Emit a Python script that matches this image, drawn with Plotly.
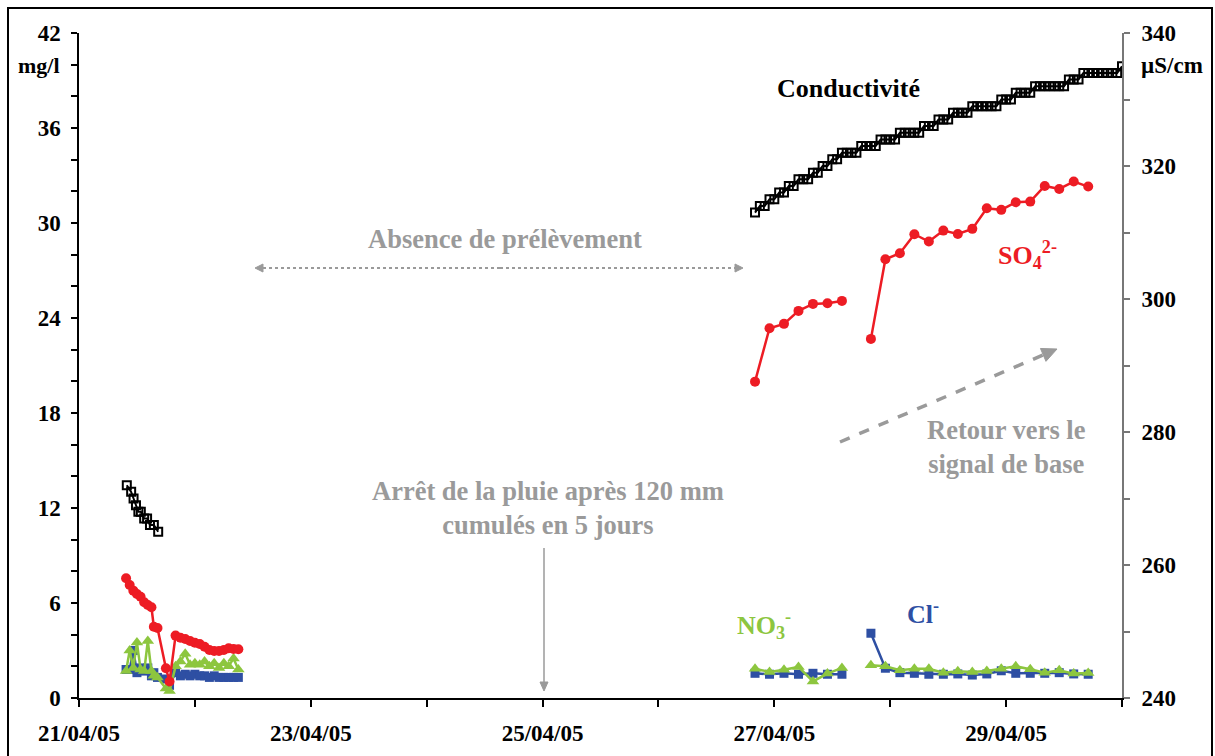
import pandas as pd
import plotly.graph_objects as go

BASE = pd.Timestamp("2005-04-21")

# ---- data (hours since 21/04/05 00:00) ----
t_left = [9.75, 10.5, 11.25, 12.0, 12.75, 13.5, 14.25, 15.0, 15.5, 16.25, 18.0, 18.75, 20.0,
          21.0, 22.0, 23.0, 24.0, 25.0, 26.0, 27.0, 28.0, 29.0, 30.0, 31.0, 32.0, 33.0]
so4_left = [7.56, 7.14, 6.78, 6.57, 6.40, 6.05, 5.87, 5.73, 4.50, 4.42, 1.88, 1.04, 3.94,
            3.81, 3.73, 3.60, 3.49, 3.41, 3.24, 3.03, 2.97, 2.97, 3.03, 3.14, 3.10, 3.08]
no3_left = [1.7, 3.0, 1.9, 3.5, 1.8, 1.7, 3.6, 1.7, 1.4, 1.3, 0.6, 0.45, 2.0,
            2.3, 2.8, 2.1, 2.2, 2.1, 2.3, 2.0, 2.2, 1.9, 2.2, 2.0, 2.5, 1.8]
cl_left = [1.8, 1.8, 3.0, 1.6, 1.9, 1.7, 1.9, 1.4, 1.6, 1.3, 1.2, 0.8, 1.6,
           1.4, 1.5, 1.4, 1.5, 1.4, 1.4, 1.3, 1.4, 1.3, 1.3, 1.3, 1.3, 1.3]

t_cond_left = [9.9, 10.8, 11.3, 11.8, 12.3, 12.8, 13.5, 14.1, 14.7, 15.5, 16.4]
cond_left = [272, 271, 270, 269, 268, 268, 267, 267, 266, 266, 265]

# right block, 3-hourly samples (None = no sample, breaks the line)
t_right = [140, 143, 146, 149, 152, 155, 158, 161, 164, 167, 170, 173, 176, 179, 182,
           185, 188, 191, 194, 197, 200, 203, 206, 209]
so4_right = [19.98, 23.35, 23.63, 24.45, 24.89, 24.93, 25.08, None, 22.68, 27.71, 28.09,
             29.29, 28.83, 29.52, 29.31, 29.63, 30.93, 30.83, 31.31, 31.35, 32.34, 32.15,
             32.62, 32.30]
no3_right = [1.85, 1.64, 1.79, 1.96, 1.05, 1.54, 1.90, None, 2.07, 2.00, 1.75, 1.85, 1.85,
             1.60, 1.69, 1.64, 1.71, 1.85, 2.00, 1.81, 1.60, 1.75, 1.54, 1.58]
cl_right = [1.56, 1.50, 1.56, 1.50, 1.56, 1.50, 1.50, None, 4.09, 1.88, 1.60, 1.56, 1.50,
            1.50, 1.52, 1.45, 1.52, 1.72, 1.56, 1.56, 1.56, 1.60, 1.52, 1.50]

# conductivity, hourly from 140 h to 216 h (uS/cm)
cond_right = [313, 314, 314, 315, 315, 316, 316, 317, 317, 318, 318, 318, 319, 319, 320,
              320, 321, 321, 322, 322, 322, 322, 323, 323, 323, 323, 324, 324, 324, 324,
              325, 325, 325, 325, 325, 326, 326, 326, 327, 327, 327, 328, 328, 328, 328,
              329, 329, 329, 329, 329, 329, 330, 330, 330, 331, 331, 331, 331, 332, 332,
              332, 332, 332, 332, 332, 333, 333, 333, 334, 334, 334, 334, 334, 334, 334,
              334, 335]
t_cond_right = list(range(140, 140 + len(cond_right)))


def to_dt(hours):
    return [BASE + pd.Timedelta(hours=h) for h in hours]


RED = "#ed1c24"
BLUE = "#2e4fa3"
GREEN = "#8dc63f"
GREY = "#9a9a9a"
SERIF = "Liberation Serif"

fig = go.Figure()

# conductivity (right axis)
for tt, vv in [(t_cond_left, cond_left), (t_cond_right, cond_right)]:
    fig.add_trace(go.Scatter(x=to_dt(tt), y=vv, yaxis="y2", mode="lines+markers",
                             line=dict(color="black", width=2),
                             marker=dict(symbol="square-open", size=8, color="black",
                                         line=dict(width=2)),
                             showlegend=False))

# chloride
for tt, vv in [(t_left, cl_left), (t_right, cl_right)]:
    fig.add_trace(go.Scatter(x=to_dt(tt), y=vv, mode="lines+markers",
                             line=dict(color=BLUE, width=2.5),
                             marker=dict(symbol="square", size=9, color=BLUE),
                             showlegend=False))

# nitrate
for tt, vv in [(t_left, no3_left), (t_right, no3_right)]:
    fig.add_trace(go.Scatter(x=to_dt(tt), y=vv, mode="lines+markers",
                             line=dict(color=GREEN, width=2.5),
                             marker=dict(symbol="triangle-up", size=11, color=GREEN),
                             showlegend=False))

# sulfate
for tt, vv in [(t_left, so4_left), (t_right, so4_right)]:
    fig.add_trace(go.Scatter(x=to_dt(tt), y=vv, mode="lines+markers",
                             line=dict(color=RED, width=2.5),
                             marker=dict(symbol="circle", size=10, color=RED),
                             showlegend=False))

day = 86400000
fig.update_layout(
    width=1215, height=756,
    margin=dict(l=79, r=93, t=33, b=58),
    plot_bgcolor="white", paper_bgcolor="white",
    font=dict(family=SERIF, color="black"),
    xaxis=dict(type="date", range=["2005-04-21", "2005-04-30"],
               tick0="2005-04-21", dtick=2 * day, tickformat="%d/%m/%y",
               ticks="outside", ticklen=7, tickwidth=1.5, tickcolor="black",
               minor=dict(dtick=day, ticks="outside", ticklen=7, tickwidth=1.5,
                          tickcolor="black", showgrid=False),
               showline=True, linecolor="black", linewidth=2, automargin=False,
               showgrid=False, zeroline=False, ticklabelstandoff=6,
               tickfont=dict(family=SERIF, size=23, weight="bold")),
    yaxis=dict(range=[0, 42], dtick=6, ticks="outside", ticklen=6, tickwidth=1.5,
               tickcolor="black", automargin=False,
               minor=dict(dtick=2, ticks="outside", ticklen=6, tickwidth=1.5,
                          tickcolor="black", showgrid=False),
               showline=True, linecolor="black", linewidth=1.5,
               showgrid=False, zeroline=False, ticklabelstandoff=6,
               tickfont=dict(family=SERIF, size=23, weight="bold")),
    yaxis2=dict(range=[240, 340], dtick=20, overlaying="y", side="right",
                ticks="outside", ticklen=6, tickwidth=1.5, tickcolor="#777777",
                minor=dict(dtick=10, ticks="outside", ticklen=6, tickwidth=1.5,
                           tickcolor="#777777", showgrid=False),
                showline=True, linecolor="#777777", linewidth=2, automargin=False,
                showgrid=False, zeroline=False, ticklabelstandoff=7,
                tickfont=dict(family=SERIF, size=23, weight="bold")),
)


def px_x(p):
    return (p - 79) / 1043.0


def px_y(p):
    return (698 - p) / 665.0


ann = [
    dict(text="<b>mg/l</b>", x=62, y=66, xanchor="right", size=22, color="black"),
    dict(text="<b>µS/cm</b>", x=1139, y=66, xanchor="left", size=23, color="black"),
    dict(text="<b>Conductivité</b>", x=848, y=88, size=26, color="black"),
    dict(text="<b>SO<sub>4</sub><sup>2-</sup></b>", x=996, y=255, xanchor="left", size=26, color=RED),
    dict(text="<b>Absence de prélèvement</b>", x=505, y=239, size=26.5, color=GREY),
    dict(text="<b>Retour vers le<br>signal de base</b>", x=1006, y=447, size=26.5, color=GREY),
    dict(text="<b>Arrêt de la pluie après 120 mm<br>cumulés en 5 jours</b>", x=548, y=508,
         size=26.5, color=GREY),
    dict(text="<b>NO<sub>3</sub><sup>-</sup></b>", x=735, y=625, xanchor="left", size=26, color=GREEN),
    dict(text="<b>Cl<sup>-</sup></b>", x=905, y=612, xanchor="left", size=26, color=BLUE),
]
for a in ann:
    fig.add_annotation(text=a["text"], x=px_x(a["x"]), y=px_y(a["y"]), xref="paper", yref="paper",
                       xanchor=a.get("xanchor", "center"), yanchor="middle", showarrow=False,
                       font=dict(family=SERIF, size=a["size"], color=a["color"]))


def arrow(x0, y0, x1, y1, width, dash, head_len, head_half):
    # line from (x0,y0) to the base of a filled head whose tip is (x1,y1); pixel coords
    dx, dy = x1 - x0, y1 - y0
    n = (dx * dx + dy * dy) ** 0.5
    ux, uy = dx / n, dy / n
    bx, by = x1 - ux * head_len, y1 - uy * head_len
    fig.add_shape(type="line", xref="paper", yref="paper", x0=px_x(x0), y0=px_y(y0),
                  x1=px_x(bx), y1=px_y(by), line=dict(color=GREY, width=width, dash=dash))
    lx, ly = bx - uy * head_half, by + ux * head_half
    rx, ry = bx + uy * head_half, by - ux * head_half
    path = "M {} {} L {} {} L {} {} Z".format(px_x(x1), px_y(y1), px_x(lx), px_y(ly),
                                               px_x(rx), px_y(ry))
    fig.add_shape(type="path", xref="paper", yref="paper", path=path,
                  fillcolor=GREY, line=dict(color=GREY, width=1))


# double arrow "Absence de prélèvement"
arrow(500, 268, 255, 268, 2, "dot", 8, 4)
arrow(500, 268, 743, 268, 2, "dot", 8, 4)
# "Retour vers le signal de base"
arrow(840, 442, 1057, 349, 3.5, "dash", 15, 7)
# rain stop
arrow(544, 548, 544, 691, 1.5, "solid", 9, 4)

# outer frame
fig.add_shape(type="rect", xref="paper", yref="paper", x0=px_x(8), x1=px_x(1212),
              y0=px_y(790), y1=px_y(8), line=dict(color="black", width=2))

fig.write_html("out.html", config={"displayModeBar": False},
               post_script="document.body.style.margin='0';")
